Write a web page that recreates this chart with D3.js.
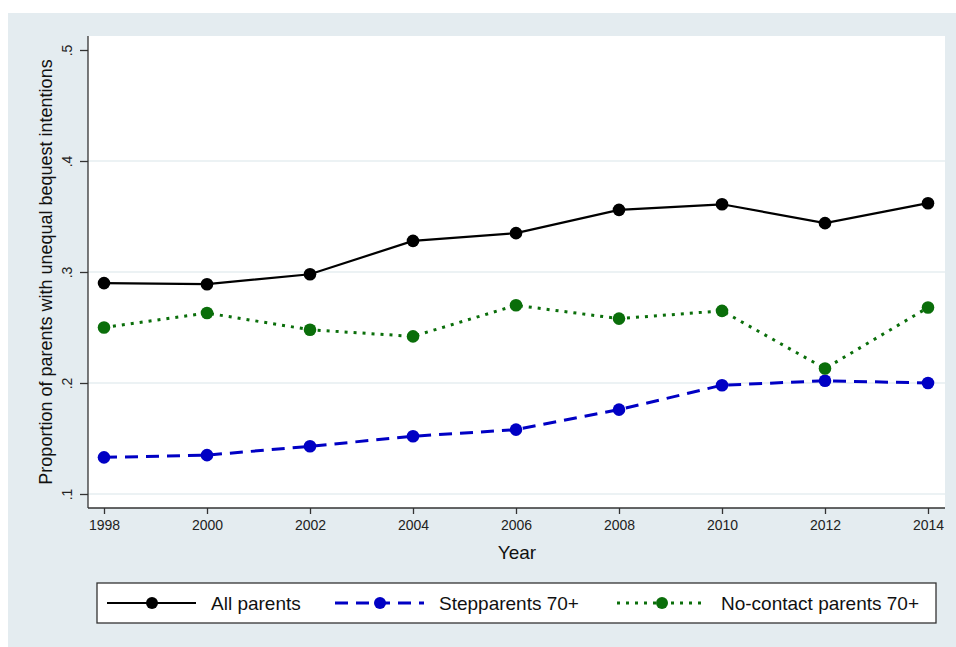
<!DOCTYPE html>
<html>
<head>
<meta charset="utf-8">
<script src="https://cdn.jsdelivr.net/npm/d3@7"></script>
<style>
  html, body { margin: 0; padding: 0; background: #ffffff; }
  svg { display: block; font-family: "Liberation Sans", Arial, sans-serif; }
</style>
</head>
<body>
<svg id="chart" width="956" height="647"></svg>
<script>
// Survey waves
const years = [1998, 2000, 2002, 2004, 2006, 2008, 2010, 2012, 2014];

// Proportion of parents with unequal bequest intentions, by group
const allParents   = [0.290, 0.289, 0.298, 0.328, 0.335, 0.356, 0.361, 0.344, 0.362];
const stepparents  = [0.133, 0.135, 0.143, 0.152, 0.158, 0.176, 0.198, 0.202, 0.200];
const noContact    = [0.250, 0.263, 0.248, 0.242, 0.270, 0.258, 0.265, 0.213, 0.268];

const yTicks = [0.1, 0.2, 0.3, 0.4, 0.5];
const yTickLabels = [".1", ".2", ".3", ".4", ".5"];
const gridTicks = [0.1, 0.2, 0.3, 0.4];

const seriesNames = ["All parents", "Stepparents 70+", "No-contact parents 70+"];
const seriesValues = [allParents, stepparents, noContact];
const seriesColors = ["#000000", "#0000c4", "#0a6e0a"];
const seriesDash = [null, "13,8", "3,6"];
const seriesWidth = [2.2, 3, 3];

const svg = d3.select("#chart");

// Outer graph region
svg.append("rect").attr("x", 8).attr("y", 13).attr("width", 948).attr("height", 634)
  .attr("fill", "#e4ecf0");

const plot = { left: 88, right: 945, top: 36, bottom: 508 };
svg.append("rect").attr("x", plot.left).attr("y", plot.top)
  .attr("width", plot.right - plot.left).attr("height", plot.bottom - plot.top)
  .attr("fill", "#ffffff");

const x = d3.scaleLinear().domain([1998, 2014]).range([104, 928]);
const y = d3.scaleLinear().domain([0.1, 0.5]).range([494, 50]);

// Horizontal grid lines
svg.append("g").selectAll("line").data(gridTicks).join("line")
  .attr("x1", plot.left).attr("x2", plot.right)
  .attr("y1", d => y(d)).attr("y2", d => y(d))
  .attr("stroke", "#e6eef1").attr("stroke-width", 1.5);

// Y axis
const yAxis = d3.axisLeft(y).tickValues(yTicks)
  .tickFormat((d, i) => yTickLabels[i]).tickSize(8).tickPadding(5);
const gy = svg.append("g").attr("transform", `translate(${plot.left},0)`).call(yAxis);
gy.select(".domain").attr("d", `M0,${plot.top}V${plot.bottom}`).attr("stroke", "#333").attr("stroke-width", 1.3);
gy.selectAll(".tick line").attr("stroke", "#333").attr("stroke-width", 1.3);
gy.selectAll(".tick text")
  .attr("font-size", 14).attr("fill", "#222")
  .attr("text-anchor", "middle")
  .attr("x", 0).attr("dy", 0)
  .attr("transform", "translate(-16,0) rotate(-90)");

// X axis
const xAxis = d3.axisBottom(x).tickValues(years).tickFormat(d3.format("d"))
  .tickSize(6).tickPadding(6);
const gx = svg.append("g").attr("transform", `translate(0,${plot.bottom})`).call(xAxis);
gx.select(".domain").attr("d", `M${plot.left},0H${plot.right}`).attr("stroke", "#333").attr("stroke-width", 1.3);
gx.selectAll(".tick line").attr("stroke", "#333").attr("stroke-width", 1.3);
gx.selectAll(".tick text").attr("font-size", 14).attr("fill", "#222");

// Axis titles
svg.append("text").attr("x", 517).attr("y", 559)
  .attr("text-anchor", "middle").attr("font-size", 19).attr("fill", "#111")
  .text("Year");
svg.append("text")
  .attr("transform", `translate(52,${(plot.top + plot.bottom) / 2}) rotate(-90)`)
  .attr("text-anchor", "middle").attr("font-size", 18).attr("fill", "#111")
  .text("Proportion of parents with unequal bequest intentions");

// Series lines and markers
const line = d3.line().x(d => x(d.year)).y(d => y(d.value));
seriesValues.forEach((vals, s) => {
  const pts = years.map((yr, i) => ({ year: yr, value: vals[i] }));
  svg.append("path").datum(pts)
    .attr("d", line).attr("fill", "none")
    .attr("stroke", seriesColors[s]).attr("stroke-width", seriesWidth[s])
    .attr("stroke-dasharray", seriesDash[s]);
  svg.append("g").selectAll("circle").data(pts).join("circle")
    .attr("cx", d => x(d.year)).attr("cy", d => y(d.value)).attr("r", 6.3)
    .attr("fill", seriesColors[s]);
});

// Legend
const legend = svg.append("g");
legend.append("rect").attr("x", 97).attr("y", 583).attr("width", 839).attr("height", 40)
  .attr("fill", "#ffffff").attr("stroke", "#333").attr("stroke-width", 1.3);
const legendX = [107, 335, 617];
seriesNames.forEach((name, s) => {
  const lx = legendX[s], ly = 603;
  legend.append("line").attr("x1", lx).attr("x2", lx + 89).attr("y1", ly).attr("y2", ly)
    .attr("stroke", seriesColors[s]).attr("stroke-width", seriesWidth[s])
    .attr("stroke-dasharray", seriesDash[s]);
  legend.append("circle").attr("cx", lx + 45).attr("cy", ly).attr("r", 6)
    .attr("fill", seriesColors[s]);
  legend.append("text").attr("x", lx + 104).attr("y", ly + 7)
    .attr("font-size", 19).attr("fill", "#111").text(name);
});
</script>
</body>
</html>
